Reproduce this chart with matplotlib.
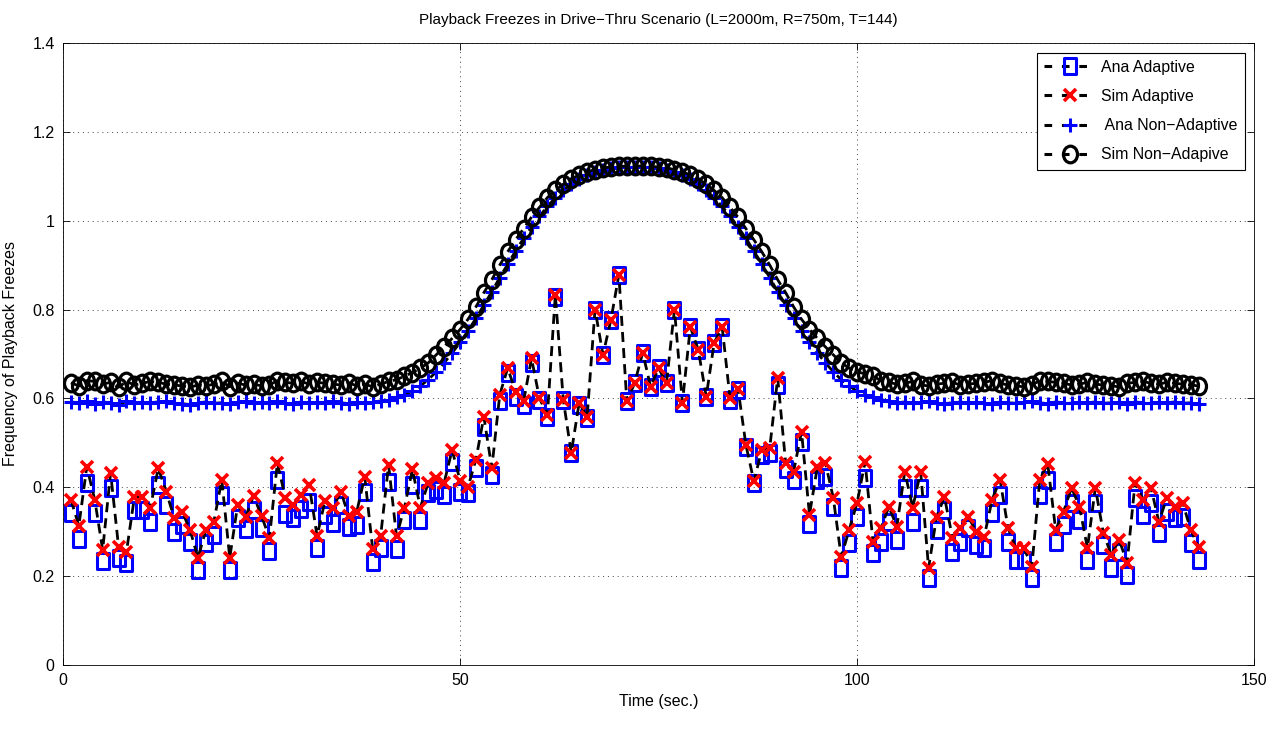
import numpy as np
import matplotlib
matplotlib.use('Agg')
import matplotlib.pyplot as plt
from matplotlib.path import Path
from matplotlib.transforms import Affine2D
from matplotlib.lines import Line2D
from matplotlib.ticker import FormatStrFormatter

plt.rcParams['font.family'] = ['Liberation Sans', 'DejaVu Sans']

# 数据（从图上读出来的）
ana_adapt = [0.342, 0.283, 0.410, 0.342, 0.233, 0.399, 0.241, 0.230, 0.349, 0.349,
             0.322, 0.405, 0.360, 0.300, 0.315, 0.277, 0.214, 0.275, 0.293, 0.383,
             0.214, 0.331, 0.305, 0.349, 0.307, 0.257, 0.417, 0.340, 0.330, 0.350,
             0.367, 0.263, 0.338, 0.320, 0.360, 0.310, 0.315, 0.390, 0.232, 0.263,
             0.412, 0.260, 0.327, 0.405, 0.327, 0.387, 0.394, 0.383, 0.456, 0.390,
             0.387, 0.443, 0.536, 0.428, 0.593, 0.657, 0.604, 0.585, 0.680, 0.597,
             0.559, 0.829, 0.597, 0.477, 0.585, 0.556, 0.800, 0.698, 0.777, 0.878,
             0.593, 0.635, 0.703, 0.626, 0.668, 0.635, 0.800, 0.590, 0.761, 0.709,
             0.604, 0.725, 0.761, 0.597, 0.619, 0.491, 0.410, 0.473, 0.477, 0.630,
             0.440, 0.417, 0.502, 0.318, 0.417, 0.423, 0.356, 0.218, 0.275, 0.333,
             0.420, 0.252, 0.277, 0.322, 0.282, 0.399, 0.322, 0.399, 0.196, 0.304,
             0.349, 0.255, 0.277, 0.308, 0.270, 0.263, 0.342, 0.383, 0.277, 0.236,
             0.236, 0.196, 0.383, 0.417, 0.277, 0.315, 0.365, 0.327, 0.236, 0.365,
             0.270, 0.218, 0.255, 0.203, 0.376, 0.338, 0.365, 0.297, 0.345, 0.331,
             0.333, 0.275, 0.236]

sim_adapt = [0.372, 0.313, 0.446, 0.372, 0.259, 0.432, 0.266, 0.255, 0.378, 0.378,
             0.354, 0.443, 0.390, 0.331, 0.345, 0.304, 0.241, 0.304, 0.322, 0.417,
             0.241, 0.360, 0.333, 0.381, 0.335, 0.286, 0.455, 0.376, 0.360, 0.383,
             0.405, 0.290, 0.370, 0.354, 0.390, 0.334, 0.345, 0.424, 0.260, 0.290,
             0.450, 0.290, 0.354, 0.440, 0.354, 0.410, 0.420, 0.410, 0.484, 0.415,
             0.400, 0.462, 0.559, 0.443, 0.608, 0.668, 0.615, 0.593, 0.690, 0.600,
             0.563, 0.833, 0.597, 0.477, 0.590, 0.558, 0.800, 0.698, 0.777, 0.878,
             0.593, 0.635, 0.703, 0.626, 0.668, 0.635, 0.800, 0.590, 0.761, 0.709,
             0.604, 0.725, 0.761, 0.600, 0.622, 0.495, 0.413, 0.484, 0.489, 0.646,
             0.455, 0.435, 0.525, 0.338, 0.446, 0.455, 0.376, 0.243, 0.304, 0.365,
             0.457, 0.277, 0.308, 0.356, 0.311, 0.435, 0.354, 0.435, 0.218, 0.333,
             0.378, 0.286, 0.308, 0.333, 0.300, 0.288, 0.372, 0.417, 0.308, 0.263,
             0.263, 0.221, 0.417, 0.453, 0.304, 0.345, 0.399, 0.356, 0.263, 0.399,
             0.297, 0.248, 0.281, 0.230, 0.410, 0.372, 0.399, 0.322, 0.376, 0.356,
             0.365, 0.304, 0.266]

ana_nonadapt = [0.592, 0.590, 0.594, 0.588, 0.592, 0.590, 0.586, 0.593, 0.589, 0.591,
                0.590, 0.592, 0.594, 0.590, 0.588, 0.586, 0.590, 0.592, 0.589, 0.590,
                0.587, 0.591, 0.593, 0.590, 0.592, 0.589, 0.594, 0.590, 0.588, 0.592,
                0.590, 0.591, 0.589, 0.593, 0.590, 0.588, 0.591, 0.590, 0.592, 0.594,
                0.597, 0.602, 0.608, 0.616, 0.628, 0.642, 0.660, 0.680, 0.702, 0.726,
                0.752, 0.780, 0.810, 0.840, 0.872, 0.902, 0.932, 0.960, 0.986, 1.010,
                1.032, 1.052, 1.068, 1.082, 1.094, 1.103, 1.110, 1.115, 1.118, 1.120,
                1.121, 1.121, 1.121, 1.120, 1.118, 1.115, 1.110, 1.103, 1.094, 1.082,
                1.068, 1.052, 1.032, 1.010, 0.986, 0.960, 0.932, 0.902, 0.872, 0.840,
                0.810, 0.780, 0.752, 0.726, 0.702, 0.680, 0.660, 0.642, 0.628, 0.616,
                0.608, 0.602, 0.597, 0.594, 0.590, 0.592, 0.589, 0.591, 0.593, 0.590,
                0.588, 0.590, 0.592, 0.589, 0.591, 0.590, 0.587, 0.592, 0.590, 0.589,
                0.591, 0.593, 0.590, 0.588, 0.592, 0.590, 0.589, 0.591, 0.590, 0.592,
                0.589, 0.590, 0.591, 0.588, 0.592, 0.590, 0.589, 0.591, 0.590, 0.592,
                0.589, 0.590, 0.588]

sim_nonadapt = [0.635, 0.628, 0.640, 0.638, 0.632, 0.636, 0.625, 0.638, 0.630, 0.634,
                0.638, 0.636, 0.632, 0.630, 0.628, 0.625, 0.630, 0.628, 0.632, 0.638,
                0.626, 0.634, 0.630, 0.632, 0.628, 0.630, 0.640, 0.636, 0.634, 0.638,
                0.632, 0.636, 0.634, 0.632, 0.630, 0.635, 0.628, 0.632, 0.626, 0.632,
                0.638, 0.642, 0.650, 0.658, 0.668, 0.680, 0.698, 0.716, 0.735, 0.755,
                0.778, 0.806, 0.838, 0.867, 0.900, 0.930, 0.957, 0.982, 1.008, 1.030,
                1.052, 1.068, 1.082, 1.094, 1.103, 1.110, 1.115, 1.119, 1.121, 1.122,
                1.123, 1.123, 1.123, 1.122, 1.121, 1.119, 1.115, 1.110, 1.103, 1.094,
                1.082, 1.068, 1.052, 1.030, 1.008, 0.982, 0.957, 0.930, 0.900, 0.867,
                0.838, 0.806, 0.778, 0.755, 0.735, 0.716, 0.698, 0.680, 0.668, 0.660,
                0.655, 0.650, 0.640, 0.636, 0.632, 0.634, 0.638, 0.630, 0.628, 0.632,
                0.634, 0.636, 0.630, 0.632, 0.634, 0.636, 0.640, 0.634, 0.630, 0.628,
                0.626, 0.630, 0.640, 0.638, 0.636, 0.634, 0.630, 0.632, 0.636, 0.632,
                0.630, 0.628, 0.626, 0.634, 0.636, 0.638, 0.634, 0.632, 0.636, 0.634,
                0.632, 0.630, 0.628]

labels = ['Ana Adaptive', 'Sim Adaptive', ' Ana Non\u2212Adaptive', 'Sim Non\u2212Adapive']

# 原图有点横向压缩，方框和圆圈都偏高
rect = Path([(-0.36, -0.5), (0.36, -0.5), (0.36, 0.5), (-0.36, 0.5), (-0.36, -0.5)],
            [Path.MOVETO, Path.LINETO, Path.LINETO, Path.LINETO, Path.CLOSEPOLY])
ellipse = Path.unit_circle().transformed(Affine2D().scale(0.84, 1.0))
dash = (3.6, 2.2)

sty = [dict(marker=rect, ms=12, mfc='none', mec='#0000ff', mew=2.2),
       dict(marker='x', ms=8, mec='#ff0000', mew=2.6),
       dict(marker='+', ms=10, mec='#0000ff', mew=2.2),
       dict(marker=ellipse, ms=12, mfc='none', mec='k', mew=2.3)]

fig = plt.figure(figsize=(12.72, 7.29), dpi=100)
ax = fig.add_axes([0.0495, 0.088, 0.9365, 0.853])

t1 = np.arange(1, len(ana_adapt) + 1)
t2 = np.arange(1, len(sim_adapt) + 1)
t3 = np.arange(1, len(ana_nonadapt) + 1)
t4 = np.arange(1, len(sim_nonadapt) + 1)

# 自适应：虚线跟着仿真值走，方框只画点
ax.plot(t1, ana_adapt, ls='none', **sty[0])
ax.plot(t2, sim_adapt, color='k', ls='--', dashes=dash, lw=2, **sty[1])
ax.plot(t3, ana_nonadapt, color='k', ls='--', dashes=dash, lw=2, **sty[2])
ax.plot(t4, sim_nonadapt, color='k', ls='--', dashes=dash, lw=2, **sty[3])

ax.set_xlim(0, 150)
ax.set_ylim(0, 1.4)
ax.set_xticks([0, 50, 100, 150])
ax.set_yticks(np.arange(0, 1.41, 0.2))
ax.yaxis.set_major_formatter(FormatStrFormatter('%g'))
ax.tick_params(direction='in', top=True, right=True, length=5, width=0.6, labelsize=11.5, pad=6)
ax.grid(True, color='#444444', linestyle=(0, (1, 4)), lw=0.7)
for s in ax.spines.values():
    s.set_linewidth(0.6)

ax.set_title('Playback Freezes in Drive\u2212Thru Scenario (L=2000m, R=750m, T=144)', fontsize=11, pad=14)
ax.set_xlabel('Time (sec.)', fontsize=11.5, labelpad=4)
ax.set_ylabel('Frequency of Playback Freezes', fontsize=11.5, labelpad=10)

handles = [Line2D([], [], color='k', ls='--', dashes=(2.5, 3.2), lw=2.2, **s) for s in sty]
leg = ax.legend(handles, labels, loc='upper right', fontsize=11.4, numpoints=1, fancybox=False,
                framealpha=1, edgecolor='k', handlelength=3.3, borderpad=0.45, labelspacing=0.9,
                handletextpad=0.3, borderaxespad=0.6)
leg.get_frame().set_linewidth(0.8)

fig.savefig('out.png', dpi=100)
